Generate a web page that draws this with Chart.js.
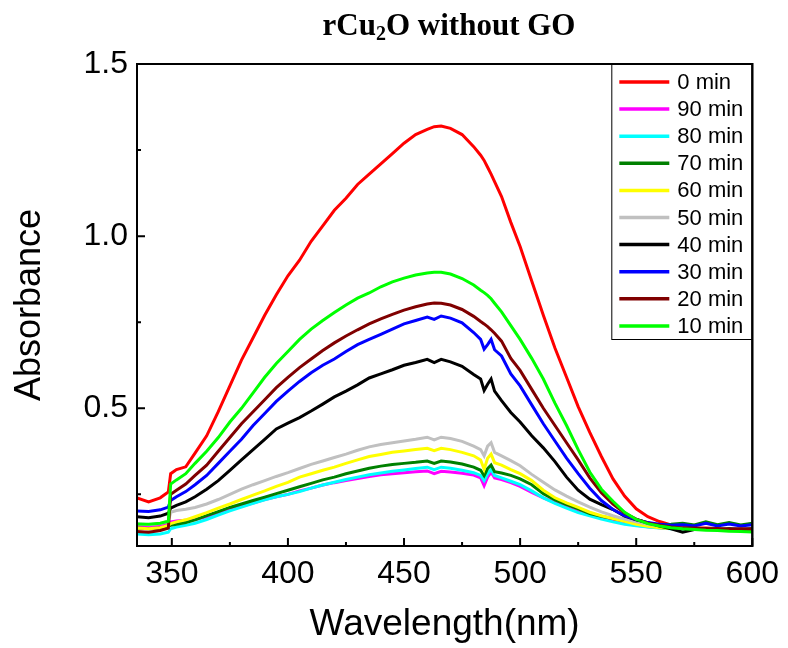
<!DOCTYPE html>
<html><head><meta charset="utf-8">
<script src="https://cdn.jsdelivr.net/npm/chart.js@4.4.0/dist/chart.umd.min.js"></script>
<style>html,body{margin:0;padding:0;background:#fff;}#wrap{width:788px;height:648px;}</style>
</head><body><div id="wrap"><canvas id="c" width="788" height="648"></canvas></div>
<script>
const wavelength = [335,340,345,348.5,349.5,352,356,360,365,370,375,380,385,390,395,400,405,410,415,420,425,430,435,440,445,450,455,460,463,466,470,475,480,483,484.5,486,487.5,489,492,496,500,505,510,515,520,525,530,535,540,545,550,555,560,565,570,575,580,585,590,595,600];

const abs0min = [0.24,0.228,0.24,0.257,0.31,0.322,0.33,0.37,0.42,0.49,0.565,0.64,0.705,0.77,0.83,0.885,0.93,0.985,1.03,1.075,1.11,1.15,1.18,1.21,1.24,1.27,1.295,1.31,1.318,1.32,1.313,1.295,1.26,1.235,1.22,1.2,1.18,1.158,1.115,1.04,0.97,0.87,0.77,0.675,0.59,0.505,0.43,0.36,0.295,0.245,0.208,0.185,0.171,0.161,0.155,0.153,0.152,0.151,0.15,0.15,0.15];
const abs90min = [0.16,0.157,0.16,0.165,0.17,0.173,0.175,0.177,0.185,0.195,0.205,0.215,0.225,0.235,0.243,0.25,0.26,0.268,0.277,0.284,0.29,0.296,0.302,0.307,0.31,0.313,0.316,0.318,0.31,0.317,0.315,0.311,0.306,0.298,0.275,0.3,0.314,0.298,0.293,0.284,0.273,0.256,0.24,0.226,0.212,0.2,0.19,0.181,0.173,0.166,0.16,0.156,0.153,0.151,0.15,0.149,0.149,0.149,0.149,0.149,0.149];
const abs80min = [0.135,0.133,0.135,0.14,0.15,0.155,0.16,0.166,0.177,0.19,0.202,0.213,0.224,0.234,0.243,0.25,0.258,0.268,0.277,0.285,0.293,0.3,0.307,0.312,0.317,0.321,0.325,0.329,0.322,0.329,0.326,0.32,0.313,0.305,0.29,0.31,0.322,0.305,0.298,0.288,0.278,0.26,0.24,0.224,0.21,0.197,0.188,0.178,0.17,0.163,0.159,0.155,0.152,0.15,0.149,0.149,0.149,0.148,0.148,0.148,0.148];
const abs70min = [0.152,0.15,0.152,0.158,0.16,0.163,0.168,0.176,0.188,0.2,0.212,0.222,0.232,0.242,0.252,0.262,0.272,0.282,0.292,0.3,0.31,0.318,0.326,0.332,0.337,0.34,0.343,0.347,0.34,0.347,0.344,0.338,0.329,0.32,0.304,0.325,0.335,0.316,0.312,0.305,0.295,0.278,0.252,0.234,0.22,0.208,0.194,0.186,0.18,0.173,0.167,0.164,0.162,0.163,0.166,0.161,0.17,0.162,0.168,0.161,0.166];
const abs60min = [0.152,0.15,0.153,0.16,0.165,0.17,0.176,0.185,0.197,0.21,0.222,0.235,0.248,0.26,0.273,0.285,0.3,0.31,0.32,0.329,0.34,0.35,0.36,0.366,0.372,0.376,0.38,0.384,0.377,0.384,0.38,0.372,0.362,0.35,0.323,0.355,0.367,0.342,0.335,0.322,0.31,0.29,0.262,0.24,0.225,0.212,0.198,0.188,0.18,0.172,0.163,0.157,0.153,0.151,0.15,0.15,0.15,0.149,0.149,0.149,0.149];
const abs50min = [0.165,0.162,0.165,0.172,0.198,0.203,0.207,0.212,0.222,0.235,0.25,0.265,0.278,0.29,0.302,0.313,0.325,0.337,0.347,0.357,0.367,0.378,0.388,0.395,0.4,0.405,0.41,0.416,0.408,0.416,0.412,0.404,0.39,0.38,0.362,0.39,0.4,0.372,0.362,0.348,0.333,0.308,0.285,0.263,0.245,0.228,0.213,0.199,0.188,0.178,0.17,0.163,0.158,0.155,0.152,0.151,0.15,0.15,0.15,0.15,0.15];
const abs40min = [0.185,0.182,0.187,0.195,0.21,0.218,0.228,0.243,0.265,0.29,0.32,0.35,0.38,0.41,0.44,0.457,0.473,0.492,0.512,0.533,0.55,0.568,0.588,0.6,0.612,0.625,0.633,0.642,0.633,0.642,0.635,0.622,0.598,0.585,0.552,0.57,0.585,0.55,0.522,0.488,0.46,0.42,0.385,0.345,0.3,0.262,0.236,0.22,0.206,0.187,0.176,0.168,0.158,0.15,0.14,0.148,0.15,0.147,0.15,0.148,0.15];
const abs30min = [0.202,0.2,0.205,0.213,0.232,0.243,0.258,0.278,0.305,0.34,0.375,0.41,0.45,0.485,0.52,0.55,0.578,0.603,0.625,0.643,0.665,0.685,0.7,0.715,0.73,0.745,0.755,0.765,0.758,0.768,0.762,0.748,0.72,0.7,0.672,0.685,0.7,0.67,0.652,0.6,0.565,0.51,0.455,0.405,0.355,0.31,0.268,0.232,0.206,0.188,0.177,0.168,0.163,0.16,0.162,0.158,0.166,0.158,0.164,0.158,0.162];
const abs20min = [0.142,0.14,0.145,0.152,0.25,0.262,0.28,0.305,0.335,0.375,0.415,0.455,0.49,0.525,0.56,0.59,0.618,0.643,0.668,0.69,0.71,0.728,0.745,0.76,0.773,0.785,0.795,0.803,0.806,0.805,0.8,0.787,0.767,0.752,0.745,0.737,0.728,0.718,0.695,0.645,0.61,0.555,0.5,0.45,0.4,0.35,0.298,0.255,0.222,0.196,0.178,0.166,0.16,0.155,0.152,0.152,0.15,0.151,0.149,0.15,0.149];
const abs10min = [0.164,0.163,0.166,0.172,0.28,0.292,0.31,0.34,0.375,0.415,0.46,0.5,0.545,0.59,0.63,0.665,0.7,0.73,0.755,0.778,0.8,0.82,0.835,0.853,0.867,0.878,0.887,0.893,0.895,0.895,0.89,0.877,0.858,0.843,0.836,0.828,0.818,0.805,0.78,0.74,0.7,0.645,0.585,0.515,0.45,0.38,0.315,0.265,0.23,0.198,0.177,0.165,0.158,0.153,0.15,0.148,0.146,0.145,0.143,0.142,0.141];

const seriesLabels = ['0 min','90 min','80 min','70 min','60 min','50 min','40 min','30 min','20 min','10 min'];
const seriesValues = [abs0min,abs90min,abs80min,abs70min,abs60min,abs50min,abs40min,abs30min,abs20min,abs10min];
const seriesColors = ['#FF0000','#FF00FF','#00FFFF','#008000','#FFFF00','#C0C0C0','#000000','#0000FF','#800000','#00FF00'];

const xTicks = [350,400,450,500,550,600];
const xMinorTicks = [375,425,475,525,575];
const yTicks = [0.5,1.0,1.5];
const yMinorTicks = [0.25,0.75,1.25];

const datasets = seriesLabels.map((lab,i)=>({
  label: lab,
  data: wavelength.map((w,j)=>({x:w,y:seriesValues[i][j]})),
  borderColor: seriesColors[i],
  backgroundColor: seriesColors[i],
  borderWidth: 3,
  pointRadius: 0,
  tension: 0,
  fill: false,
  order: seriesLabels.length - 1 - i
}));

const framePlugin = {
  id: 'frame',
  afterDraw(chart) {
    const ctx = chart.ctx, ca = chart.chartArea;
    const xs = chart.scales.x, ys = chart.scales.y;
    ctx.save();
    ctx.strokeStyle = '#000';
    ctx.lineWidth = 2;
    ctx.strokeRect(ca.left, ca.top, ca.right - ca.left, ca.bottom - ca.top);
    ctx.beginPath();
    xTicks.forEach(v => { const p = xs.getPixelForValue(v); ctx.moveTo(p, ca.bottom); ctx.lineTo(p, ca.bottom - 8); });
    xMinorTicks.forEach(v => { const p = xs.getPixelForValue(v); ctx.moveTo(p, ca.bottom); ctx.lineTo(p, ca.bottom - 4); });
    yTicks.forEach(v => { const p = ys.getPixelForValue(v); ctx.moveTo(ca.left, p); ctx.lineTo(ca.left + 8, p); });
    yMinorTicks.forEach(v => { const p = ys.getPixelForValue(v); ctx.moveTo(ca.left, p); ctx.lineTo(ca.left + 4, p); });
    ctx.stroke();

    // legend
    const lx = ca.right - 141, ly = ca.top, lw = 141, lh = 276;
    ctx.fillStyle = '#fff';
    ctx.fillRect(lx, ly, lw, lh);
    ctx.lineWidth = 1;
    ctx.strokeRect(lx + 0.5, ly + 0.5, lw - 1, lh - 1);
    ctx.font = '22px "Liberation Sans", Arial, sans-serif';
    ctx.textBaseline = 'middle';
    ctx.textAlign = 'left';
    seriesLabels.forEach((lab, i) => {
      const yy = ly + 18 + i * 27.1;
      ctx.strokeStyle = seriesColors[i];
      ctx.lineWidth = 3.5;
      ctx.beginPath();
      ctx.moveTo(lx + 8, yy); ctx.lineTo(lx + 58, yy);
      ctx.stroke();
      ctx.fillStyle = '#000';
      ctx.fillText(lab, lx + 66, yy + 1);
    });
    ctx.strokeStyle = '#000';
    ctx.lineWidth = 2;
    ctx.strokeRect(ca.left, ca.top, ca.right - ca.left, ca.bottom - ca.top);

    // title
    const big = 'bold 31px "Liberation Serif", "Times New Roman", serif';
    const small = 'bold 20px "Liberation Serif", "Times New Roman", serif';
    const parts = [['rCu', big, 0], ['2', small, 5], ['O without GO', big, 0]];
    let total = 0;
    parts.forEach(p => { ctx.font = p[1]; total += ctx.measureText(p[0]).width; });
    let x = 449 - total / 2;
    ctx.fillStyle = '#000';
    ctx.textBaseline = 'alphabetic';
    parts.forEach(p => { ctx.font = p[1]; ctx.fillText(p[0], x, 35 + p[2]); x += ctx.measureText(p[0]).width; });
    ctx.restore();
  }
};

new Chart(document.getElementById('c'), {
  type: 'line',
  data: { datasets },
  options: {
    responsive: false,
    devicePixelRatio: 1,
    animation: false,
    layout: { padding: { top: 64, right: 35, left: 0, bottom: 0 } },
    plugins: { legend: { display: false }, title: { display: false }, tooltip: { enabled: false } },
    scales: {
      x: {
        type: 'linear', min: 335, max: 600,
        afterBuildTicks: s => { s.ticks = xTicks.map(v => ({ value: v })); },
        afterFit: s => { s.height = 102; },
        grid: { display: false, drawTicks: false },
        border: { display: false },
        ticks: { color: '#000', padding: 9, maxRotation: 0, font: { family: '"Liberation Sans", Arial, sans-serif', size: 32 }, callback: v => String(v) },
        title: { display: true, text: 'Wavelength(nm)', color: '#000', font: { family: '"Liberation Sans", Arial, sans-serif', size: 37 }, padding: { top: 0, bottom: 1 } }
      },
      y: {
        type: 'linear', min: 0.1, max: 1.5,
        afterBuildTicks: s => { s.ticks = yTicks.map(v => ({ value: v })); },
        afterFit: s => { s.width = 137; },
        grid: { display: false, drawTicks: false },
        border: { display: false },
        ticks: { color: '#000', padding: 9, font: { family: '"Liberation Sans", Arial, sans-serif', size: 32 }, callback: v => Number(v).toFixed(1) },
        title: { display: true, text: 'Absorbance', color: '#000', font: { family: '"Liberation Sans", Arial, sans-serif', size: 36 }, padding: { top: 8, bottom: 0 } }
      }
    }
  },
  plugins: [framePlugin]
});
</script></body></html>
